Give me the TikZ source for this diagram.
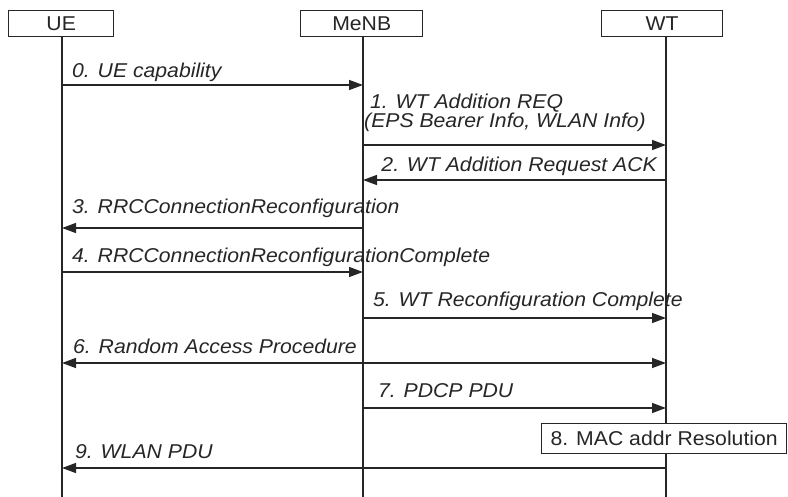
\documentclass[tikz,border=0pt]{standalone}
\usepackage{fontspec}
\setmainfont[FakeStretch=1.06]{Liberation Sans}
\usetikzlibrary{arrows.meta}
\definecolor{ink}{HTML}{262626}
\begin{document}
\begin{tikzpicture}[x=1pt,y=-1pt,
  font=\fontsize{20}{18}\selectfont,
  every node/.style={text=ink, inner sep=0pt},
  entity/.style={draw=ink, line width=1.4pt, fill=white, minimum height=26pt, anchor=north west},
  life/.style={draw=ink, line width=1.4pt},
  msg/.style={draw=ink, line width=1.5pt, -{Triangle[length=14pt,width=10pt]}},
  dmsg/.style={draw=ink, line width=1.5pt, {Triangle[length=14pt,width=10pt]}-{Triangle[length=14pt,width=10pt]}},
  lab/.style={font=\fontsize{20}{18}\selectfont\itshape, anchor=base west, align=left},
  labr/.style={font=\fontsize{20}{18}\selectfont\itshape, anchor=base east}]
\useasboundingbox (0,0) rectangle (788,497);
% entities
\node[entity, minimum width=105pt] (uebox) at (8,10) {UE};
\node[entity, minimum width=122pt] (menbbox) at (300,10) {MeNB};
\node[entity, minimum width=121pt] (wtbox) at (601,10) {WT};
% lifelines
\coordinate (ue) at (62,36);
\coordinate (menb) at (363,36);
\coordinate (wt) at (666,36);
\coordinate (bot) at (0,497);
\draw[life] (ue) -- (ue |- bot);
\draw[life] (menb) -- (menb |- bot);
\draw[life] (wt) -- (wt |- bot);
% message rows
\coordinate (m0) at (0,85);
\coordinate (m1) at (0,145);
\coordinate (m2) at (0,180);
\coordinate (m3) at (0,228);
\coordinate (m4) at (0,272);
\coordinate (m5) at (0,318);
\coordinate (m6) at (0,363);
\coordinate (m7) at (0,408);
\coordinate (m9) at (0,468);
% 0
\draw[msg] (ue |- m0) -- (menb |- m0);
\node[lab] (l0) at (72,78) {0. UE capability};
% 1
\draw[msg] (menb |- m1) -- (wt |- m1);
\node[lab] (l1a) at (370,109) {1. WT Addition REQ};
\node[lab] (l1b) at (364,128) {(EPS Bearer Info, WLAN Info)};
% 2
\draw[msg] (wt |- m2) -- (menb |- m2);
\node[labr] (l2) at (657,172) {2. WT Addition Request ACK};
% 3
\draw[msg] (menb |- m3) -- (ue |- m3);
\node[lab] (l3) at (72,214) {3. RRCConnectionReconfiguration};
% 4
\draw[msg] (ue |- m4) -- (menb |- m4);
\node[lab] (l4) at (72,263) {4. RRCConnectionReconfigurationComplete};
% 5
\draw[msg] (menb |- m5) -- (wt |- m5);
\node[lab] (l5) at (373,307) {5. WT Reconfiguration Complete};
% 6
\draw[dmsg] (ue |- m6) -- (wt |- m6);
\node[lab] (l6) at (73,353) {6. Random Access Procedure};
% 7
\draw[msg] (menb |- m7) -- (wt |- m7);
\node[lab] (l7) at (378,398) {7. PDCP PDU};
% 8
\node[draw=ink, line width=1.4pt, fill=white, minimum width=245pt, minimum height=30pt, anchor=north west] (b8) at (541,423) {8. MAC addr Resolution};
% 9
\draw[msg] (wt |- m9) -- (ue |- m9);
\node[lab] (l9) at (75,458) {9. WLAN PDU};
\end{tikzpicture}
\end{document}
